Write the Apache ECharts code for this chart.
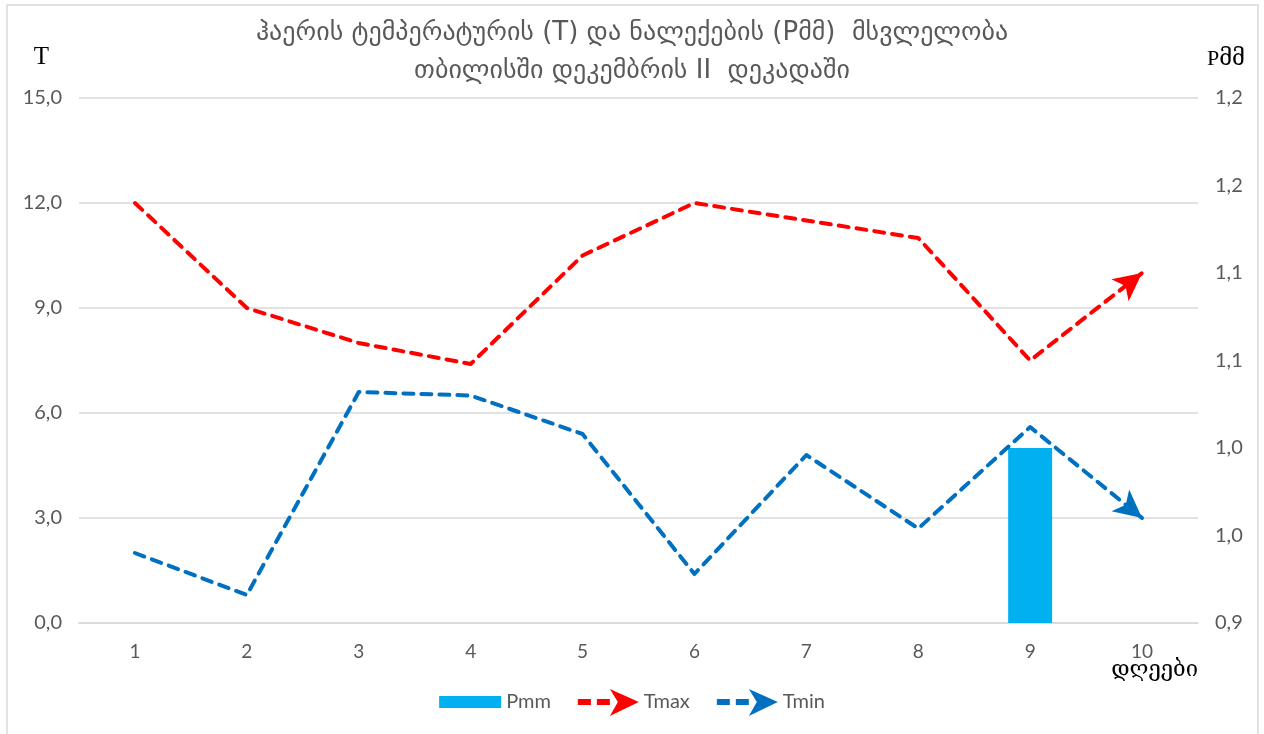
<!DOCTYPE html>
<html>
<head>
<meta charset="utf-8">
<script src="https://cdn.jsdelivr.net/npm/echarts@6/dist/echarts.min.js"></script>
<style>
html,body{margin:0;padding:0;background:#fff;}
#c{width:1264px;height:734px;}
</style>
</head>
<body>
<div id="c"></div>
<script>
const days = ['1','2','3','4','5','6','7','8','9','10'];
const pmm = [null, null, null, null, null, null, null, null, 1.0, null];
const tmax = [12.0, 9.0, 8.0, 7.4, 10.5, 12.0, 11.5, 11.0, 7.5, 10.0];
const tmin = [2.0, 0.8, 6.6, 6.5, 5.4, 1.4, 4.8, 2.7, 5.6, 3.0];
const rightTickLabels = ['0,9', '1,0', '1,0', '1,1', '1,1', '1,2', '1,2'];
const titleLines = ['ჰაერის ტემპერატურის (T) და ნალექების (Pმმ)  მსვლელობა', 'თბილისში დეკემბრის II  დეკადაში'];

const gray = '#595959';
const labelFont = 'Lato, "Open Sans", sans-serif';
const rightMin = 0.9, rightStep = 0.05;

function arrowMark(data, color) {
  const n = data.length;
  return {
    silent: true,
    symbol: ['none', 'arrow'],
    symbolSize: [21, 28],
    label: {show: false},
    lineStyle: {color: color, width: 0.1, type: 'solid'},
    data: [[{coord: [days[n - 2], data[n - 2]]}, {coord: [days[n - 1], data[n - 1]]}]]
  };
}

const chart = echarts.init(document.getElementById('c'));
chart.setOption({
  animation: false,
  backgroundColor: '#fff',
  title: {
    text: titleLines.join('\n'),
    left: 'center',
    top: 9,
    textStyle: {fontFamily: '"DejaVu Sans", sans-serif', fontSize: 26, fontWeight: 'normal', color: gray, lineHeight: 38}
  },
  graphic: [
    {type: 'rect', shape: {x: 7, y: 5, width: 1251, height: 740}, style: {fill: 'none', stroke: '#d9d9d9', lineWidth: 1.5}, silent: true}
  ],
  legend: {
    bottom: 13,
    left: 'center',
    itemWidth: 62,
    itemHeight: 28,
    itemGap: 26,
    textStyle: {fontFamily: labelFont, fontSize: 20, color: gray},
    data: [
      {name: 'Pmm', icon: 'path://M0,0 M0,8 L62,8 L62,20 L0,20 Z M62,28'},
      {name: 'Tmax', icon: 'path://M0,0 M1,11 L14,11 L14,17 L1,17 Z M20,11 L33,11 L33,17 L20,17 Z M33,1 L62,14 L33,28 L41,14 Z'},
      {name: 'Tmin', icon: 'path://M0,0 M1,11 L14,11 L14,17 L1,17 Z M20,11 L33,11 L33,17 L20,17 Z M33,1 L62,14 L33,28 L41,14 Z'}
    ]
  },
  grid: {left: 79, right: 66, top: 98, bottom: 111, containLabel: false},
  xAxis: {
    type: 'category',
    data: days,
    boundaryGap: true,
    name: 'დღეები',
    nameLocation: 'end',
    nameGap: 0,
    nameMoveOverlap: false,
    nameTextStyle: {fontFamily: '"DejaVu Serif", "DejaVu Sans", serif', fontSize: 22, color: '#000', align: 'right', verticalAlign: 'top', padding: [36, 0, 0, 0]},
    axisLine: {show: true, lineStyle: {color: '#d9d9d9', width: 1.5}},
    axisTick: {show: false},
    axisLabel: {fontFamily: labelFont, fontSize: 19, color: gray, margin: 19}
  },
  yAxis: [
    {
      type: 'value',
      min: 0, max: 15, interval: 3,
      name: 'T',
      nameLocation: 'end',
      nameGap: 28,
      nameMoveOverlap: false,
      nameTextStyle: {fontFamily: '"Liberation Serif", serif', fontSize: 25, color: '#000', align: 'center', padding: [0, 0, 0, -75]},
      axisLine: {show: false},
      axisTick: {show: false},
      splitLine: {lineStyle: {color: '#d9d9d9', width: 1.5}},
      axisLabel: {fontFamily: labelFont, fontSize: 20, color: gray, margin: 17, formatter: v => v.toFixed(1).replace('.', ',')}
    },
    {
      type: 'value',
      min: rightMin, max: 1.2, interval: rightStep,
      name: 'Pმმ',
      nameLocation: 'end',
      nameGap: 28,
      nameMoveOverlap: false,
      nameTextStyle: {fontFamily: '"Liberation Serif", "DejaVu Serif", serif', fontSize: 22, color: '#000', align: 'center', padding: [0, 0, 0, 56]},
      axisLine: {show: false},
      axisTick: {show: false},
      splitLine: {show: false},
      axisLabel: {fontFamily: labelFont, fontSize: 20, color: gray, margin: 17,
        formatter: v => rightTickLabels[Math.round((v - rightMin) / rightStep)] || ''}
    }
  ],
  series: [
    {
      name: 'Pmm', type: 'bar', yAxisIndex: 1, data: pmm, barWidth: 44,
      itemStyle: {color: '#00B0F0'}
    },
    {
      name: 'Tmax', type: 'line', yAxisIndex: 0, data: tmax, symbol: 'none',
      itemStyle: {color: '#FF0000'},
      lineStyle: {color: '#FF0000', width: 4, type: [10, 8], cap: 'round', join: 'round'},
      markLine: arrowMark(tmax, '#FF0000')
    },
    {
      name: 'Tmin', type: 'line', yAxisIndex: 0, data: tmin, symbol: 'none',
      itemStyle: {color: '#0070C0'},
      lineStyle: {color: '#0070C0', width: 4, type: [10, 8], cap: 'round', join: 'round'},
      markLine: arrowMark(tmin, '#0070C0')
    }
  ]
});
</script>
</body>
</html>
